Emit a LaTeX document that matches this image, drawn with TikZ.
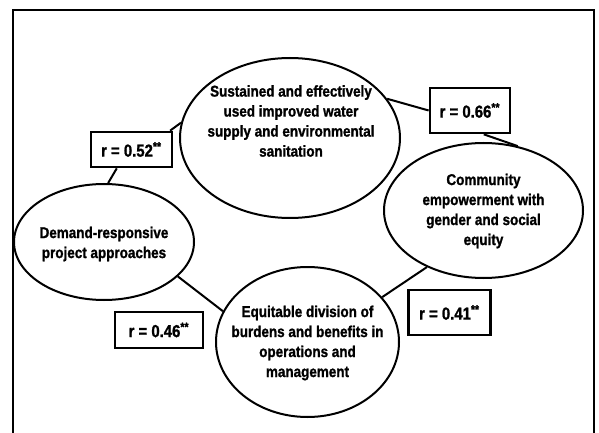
\documentclass[tikz,border=0pt]{standalone}
\usepackage{fontspec}
\setmainfont{Liberation Sans}[BoldFeatures={FakeStretch=0.86,FakeBold=1.2}]
\usetikzlibrary{shapes.geometric}

\tikzset{
	factor/.style={ellipse, draw, line width=1.2pt, inner sep=0pt},
	factor text/.style={align=center, font=\fontsize{9.4}{12}\selectfont\bfseries},
	corr/.style={rectangle, draw, line width=1.6pt, inner sep=0pt,
		font=\fontsize{10.4}{11}\selectfont\bfseries},
	link/.style={line width=1.2pt},
}

\begin{document}
\begin{tikzpicture}[x=0.6pt,y=-0.6pt]
	\useasboundingbox (0,0) rectangle (599,433);
	% outer frame (open at the bottom)
	\draw[line width=1.2pt] (13,440) -- (13,10) -- (594,10) -- (594,440);

	% factors
	\node[factor, minimum width=132pt, minimum height=96pt] (sust) at (290,138) {};
	\node[factor text] (sust-txt) at (291,121)
		{Sustained and effectively\\used improved water\\supply and environmental\\sanitation};
	\node[factor, minimum width=119.4pt, minimum height=81pt] (comm) at (483.5,210.5) {};
	\node[factor text] (comm-txt) at (483.5,211)
		{Community\\empowerment with\\gender and social\\equity};
	\node[factor, minimum width=108pt, minimum height=69.6pt] (dem) at (104,242) {};
	\node[factor text] (dem-txt) at (104,244)
		{Demand-responsive\\project approaches};
	\node[factor, minimum width=109.8pt, minimum height=90pt] (equi) at (307.5,342) {};
	\node[factor text] (equi-txt) at (307.5,343)
		{Equitable division of\\burdens and benefits in\\operations and\\management};

	% correlation boxes
	\node[corr, minimum width=48pt, minimum height=27pt] (r66) at (470,110.5) {r = 0.66\textsuperscript{**}};
	\node[corr, minimum width=48.6pt, minimum height=21pt] (r52) at (131.5,149.5) {r = 0.52\textsuperscript{**}};
	\node[corr, minimum width=52.8pt, minimum height=21.6pt] (r46) at (159,330) {r = 0.46\textsuperscript{**}};
	\node[corr, minimum width=49.2pt, minimum height=27pt] (r41) at (449.5,312.5) {r = 0.41\textsuperscript{**}};

	% links
	\draw[link] (sust.22) -- (r66.west);
	\draw[link] (r66.-60) -- (comm.62);
	\draw[link] (sust.172) -- (r52.26);
	\draw[link] (r52.-128) -- (dem.86);
	\draw[link] (dem.-25) -- (equi.160);
	\draw[link] (equi.31) -- (comm.-135);
\end{tikzpicture}
\end{document}
